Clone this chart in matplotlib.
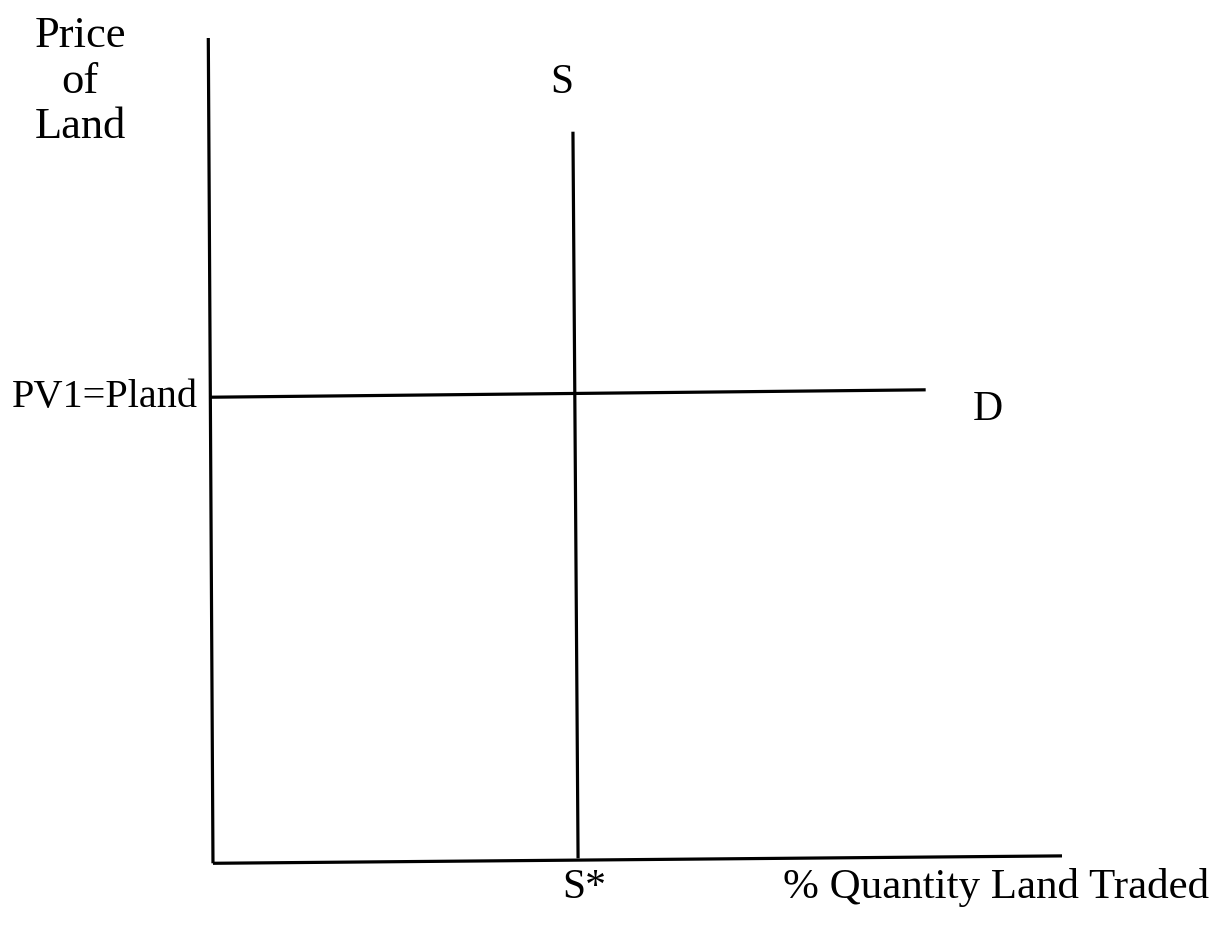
import matplotlib
matplotlib.use('Agg')
import matplotlib.pyplot as plt

# hand-drawn supply/demand for land (0-100 scale)
supply_q = [42.6, 43.2]
supply_p = [88.6, 0.2]
demand_q = [0.1, 84.0]
demand_p = [56.3, 57.2]
yaxis_q = [-0.2, 0.35]
yaxis_p = [100.0, -0.4]
xaxis_q = [0.35, 100.0]
xaxis_p = [-0.4, 0.5]

price_label = 'Price\nof\nLand'
qty_label = '% Quantity Land Traded'
price_tick = 'PV1=Pland'
supply_label = 'S'
demand_label = 'D'
qty_tick = 'S*'

plt.rcParams['font.family'] = ['Liberation Serif', 'DejaVu Serif']

fig = plt.figure(figsize=(12.22, 9.40), dpi=100)
ax = fig.add_axes([210 / 1222, 80 / 940, 852 / 1222, 822 / 940])
ax.set_xlim(0, 100)
ax.set_ylim(0, 100)
ax.axis('off')

lw = 2.3
ax.plot(yaxis_q, yaxis_p, color='black', lw=lw, clip_on=False, solid_capstyle='butt')
ax.plot(xaxis_q, xaxis_p, color='black', lw=lw, clip_on=False, solid_capstyle='butt')
ax.plot(supply_q, supply_p, color='black', lw=lw, clip_on=False, solid_capstyle='butt')
ax.plot(demand_q, demand_p, color='black', lw=lw, clip_on=False, solid_capstyle='butt')

# labels (baseline of the last line is used for multi-line text)
fig.text(80 / 1222, 1 - 138 / 940, price_label, ha='center', va='baseline',
         fontsize=32, linespacing=1.17, multialignment='center')
fig.text(12 / 1222, 1 - 407 / 940, price_tick, ha='left', va='baseline', fontsize=29)
fig.text(562 / 1222, 1 - 93 / 940, supply_label, ha='center', va='baseline', fontsize=30)
fig.text(988 / 1222, 1 - 420 / 940, demand_label, ha='center', va='baseline', fontsize=30)
fig.text(584 / 1222, 1 - 898 / 940, qty_tick, ha='center', va='baseline', fontsize=30)
fig.text(783 / 1222, 1 - 898 / 940, qty_label, ha='left', va='baseline', fontsize=31)

fig.savefig('out.png', dpi=100, facecolor='white')
